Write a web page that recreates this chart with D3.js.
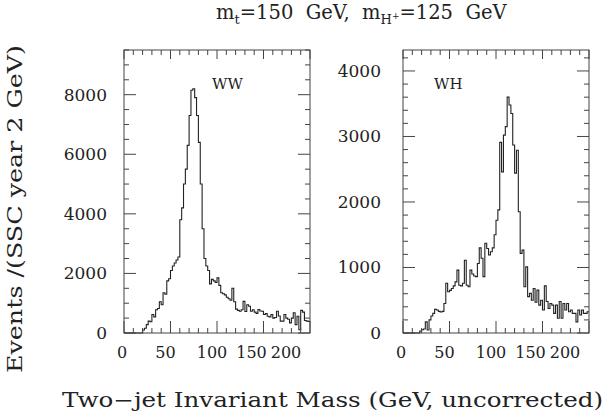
<!DOCTYPE html>
<html><head><meta charset="utf-8">
<script src="https://cdn.jsdelivr.net/npm/d3@7"></script>
<style>
body{margin:0;background:#fff}
svg{display:block}
text{font-family:"DejaVu Serif",serif;fill:#222}
</style>
</head><body>
<svg id="c" width="606" height="419"></svg>
<script>
// ---- data ----
const binWidth = 2; // GeV per bin
const xTickLabels = [0, 50, 100, 150, 200];
const wwYTicks = [0, 2000, 4000, 6000, 8000];
const whYTicks = [0, 1000, 2000, 3000, 4000];
const wwCounts = [
  0,0,0,0,0,0,0,0,0,0,
  100,160,280,400,380,620,540,780,820,1050,
  950,1350,1300,1750,1820,2100,2250,2350,2450,2550,
  3800,4200,5000,5500,6300,7300,8150,8200,7900,7300,
  6400,5000,3500,2500,2250,2100,1650,1800,1750,1700,
  1850,1600,1350,1320,1280,1200,1150,1100,1500,1050,
  800,760,730,780,1060,720,950,900,730,780,
  700,660,790,740,730,620,650,560,540,620,
  500,520,730,570,400,400,620,500,460,340,
  500,680,280,560,110,760,700,420,400,390
];
const whCounts = [
  0,0,0,0,0,0,0,0,0,30,
  50,60,170,45,200,260,300,360,350,330,
  320,330,450,760,630,650,680,720,780,960,
  730,720,760,1110,730,705,960,900,870,860,
  1060,1300,1140,860,1370,1290,1190,1240,1300,1500,
  1720,1880,2910,2460,3020,3150,3600,3480,3350,2870,
  2440,2790,1850,1215,1265,707,1010,555,605,500,
  680,470,655,425,500,350,720,480,375,450,
  425,300,425,225,480,225,450,350,450,325,
  350,300,300,170,350,275,350,300,300,325
];
const titleParts = ["m", "t", "=150\u00a0\u00a0GeV,\u00a0\u00a0m", "H", "+", "=125\u00a0\u00a0GeV"];
const yTitle = "Events /(SSC year 2 GeV)";
const xTitle = "Two\u2212jet Invariant Mass (GeV, uncorrected)";

// ---- layout ----
const yTop = 50, yBot = 333, pw = 186;
const labelNudge = [-2, -5, -5, -12, -24];
const panels = [
  {name: "WW", counts: wwCounts, yMax: 9500, yTicks: wwYTicks, yMinor: 500, left: 124, nameDx: 88, ylabGap: 17},
  {name: "WH", counts: whCounts, yMax: 4320, yTicks: whYTicks, yMinor: 200, left: 403, nameDx: 31, ylabGap: 22}
];

const svg = d3.select("#c");
const ink = "#222";

panels.forEach(p => {
  const x = d3.scaleLinear().domain([0, 200]).range([p.left, p.left + pw]);
  const y = d3.scaleLinear().domain([0, p.yMax]).range([yBot, yTop]);
  const g = svg.append("g");

  const pts = p.counts.map((c, i) => [i * binWidth, c]);
  pts.push([200, p.counts[p.counts.length - 1]]);
  const line = d3.line().x(d => x(d[0])).y(d => y(d[1])).curve(d3.curveStepAfter);
  g.append("path").attr("d", line(pts)).attr("fill", "none")
    .attr("stroke", ink).attr("stroke-width", 1.1);

  g.append("rect").attr("x", x(0)).attr("y", yTop).attr("width", pw).attr("height", yBot - yTop)
    .attr("fill", "none").attr("stroke", "#444").attr("stroke-width", 1);

  d3.range(0, 201, 10).forEach(v => {
    const major = v % 50 === 0;
    const lb = major ? 12 : 5, lt = major ? 9 : 5;
    g.append("line").attr("x1", x(v)).attr("x2", x(v)).attr("y1", yBot).attr("y2", yBot - lb)
      .attr("stroke", "#444").attr("stroke-width", 1);
    g.append("line").attr("x1", x(v)).attr("x2", x(v)).attr("y1", yTop).attr("y2", yTop + lt)
      .attr("stroke", "#444").attr("stroke-width", 1);
  });
  d3.range(0, p.yMax + 1, p.yMinor).forEach(v => {
    const major = p.yTicks.includes(v);
    const l = major ? 12 : 5;
    g.append("line").attr("x1", x(0)).attr("x2", x(0) + l).attr("y1", y(v)).attr("y2", y(v))
      .attr("stroke", "#444").attr("stroke-width", 1);
    g.append("line").attr("x1", x(200)).attr("x2", x(200) - l).attr("y1", y(v)).attr("y2", y(v))
      .attr("stroke", "#444").attr("stroke-width", 1);
  });

  xTickLabels.forEach((v, i) => {
    g.append("text").attr("x", x(v) + labelNudge[i]).attr("y", 358)
      .attr("text-anchor", "middle").attr("font-size", 16).text(v);
  });
  p.yTicks.forEach(v => {
    g.append("text").attr("x", x(0) - p.ylabGap).attr("y", y(v) + 6)
      .attr("text-anchor", "end").attr("font-size", 17).text(v);
  });

  g.append("text").attr("x", x(0) + p.nameDx).attr("y", 89)
    .attr("font-size", 15).text(p.name);
});

const t = svg.append("text").attr("x", 216).attr("y", 19).attr("font-size", 19.5);
t.append("tspan").text(titleParts[0]);
t.append("tspan").attr("font-size", 13).attr("dy", 5).text(titleParts[1]);
t.append("tspan").attr("dy", -5).text(titleParts[2]);
t.append("tspan").attr("font-size", 13).attr("dy", 5).text(titleParts[3]);
t.append("tspan").attr("font-size", 9).attr("dy", -5).text(titleParts[4]);
t.append("tspan").attr("dy", 0).text(titleParts[5]);

svg.append("text").attr("transform", "translate(22,209) rotate(-90)")
  .attr("text-anchor", "middle").attr("font-size", 20).attr("textLength", 328)
  .attr("lengthAdjust", "spacingAndGlyphs").text(yTitle);
svg.append("text").attr("x", 62).attr("y", 407).attr("font-size", 20)
  .attr("textLength", 541).attr("lengthAdjust", "spacingAndGlyphs").text(xTitle);
</script>
</body></html>
